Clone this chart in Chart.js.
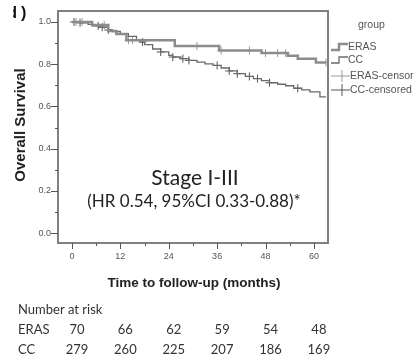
<!DOCTYPE html>
<html>
<head>
<meta charset="utf-8">
<script src="https://cdn.jsdelivr.net/npm/chart.js@4.4.0/dist/chart.umd.min.js"></script>
<style>
  html, body { margin: 0; padding: 0; background: #fff; }
  #wrap { width: 414px; height: 361px; position: relative; }
</style>
</head>
<body>
<div id="wrap"><canvas id="km" width="414" height="361"></canvas></div>
<script>
// KM step data (months, survival)
const erasTimes = [0, 5, 9, 11, 13.5, 25.5, 36.5, 47, 53.5, 56, 60.5, 63];
const erasSurv  = [1.0, 0.986, 0.957, 0.943, 0.914, 0.886, 0.865, 0.853, 0.84, 0.826, 0.808, 0.808];
const ccTimes = [0, 2, 4, 5, 7, 9, 10, 12, 14, 16, 17, 18, 20, 22, 24, 25, 27, 29, 31, 33, 35, 37, 39, 41, 43, 45, 47, 49, 51, 53, 55, 57, 59, 61.5, 63];
const ccSurv  = [1.0, 0.996, 0.989, 0.982, 0.975, 0.962, 0.955, 0.945, 0.932, 0.915, 0.905, 0.893, 0.872, 0.858, 0.842, 0.834, 0.826, 0.818, 0.810, 0.802, 0.794, 0.782, 0.768, 0.755, 0.742, 0.732, 0.722, 0.712, 0.705, 0.698, 0.686, 0.678, 0.669, 0.645, 0.645];
// censoring times
const erasCensor = [1, 2.5, 8, 14, 15, 31, 37, 44, 48, 51, 53, 63];
const ccCensor = [0.5, 2, 6.5, 7.5, 9, 17.5, 22, 25, 27.5, 29, 36, 39, 41, 44, 46, 49, 56];
// axis ticks
const xTicks = [0, 12, 24, 36, 48, 60];
const yTicks = [0.0, 0.2, 0.4, 0.6, 0.8, 1.0];
// number at risk table
const riskGroups = ['ERAS', 'CC'];
const riskEras = [70, 66, 62, 59, 54, 48];
const riskCc = [279, 260, 225, 207, 186, 169];

const toPoints = (t, s) => t.map((x, i) => ({ x: x, y: s[i] }));
// survival at time t from a step curve
const survAt = (t, times, surv) => {
  let v = surv[0];
  for (let i = 0; i < times.length; i++) { if (times[i] <= t) v = surv[i]; }
  return v;
};
const censorPoints = (c, times, surv) => c.map(t => ({ x: t, y: survAt(t, times, surv) }));

const ERAS_COL = '#8c8c8c';
const CC_COL = '#6a6a6a';

const decorPlugin = {
  id: 'decor',
  afterDraw(chart) {
    const ctx = chart.ctx;
    const a = chart.chartArea;
    const xs = chart.scales.x, ys = chart.scales.y;
    ctx.save();

    // frame
    ctx.strokeStyle = '#808080';
    ctx.lineWidth = 2;
    ctx.strokeRect(a.left, a.top, a.right - a.left, a.bottom - a.top);

    // ticks
    ctx.lineWidth = 1;
    ctx.strokeStyle = '#555';
    for (let m = 0; m <= 60; m += 6) {
      const px = Math.round(xs.getPixelForValue(m)) + 0.5;
      ctx.beginPath();
      ctx.moveTo(px, a.bottom);
      ctx.lineTo(px, a.bottom + (m % 12 === 0 ? 6 : 3));
      ctx.stroke();
    }
    for (let v = 0; v <= 10; v++) {
      const py = Math.round(ys.getPixelForValue(v / 10)) + 0.5;
      ctx.beginPath();
      ctx.moveTo(a.left, py);
      ctx.lineTo(a.left - (v % 2 === 0 ? 7 : 3), py);
      ctx.stroke();
    }

    // tick labels
    ctx.fillStyle = '#555';
    ctx.font = '9px "Liberation Sans", Arial, sans-serif';
    ctx.textAlign = 'center';
    ctx.textBaseline = 'middle';
    xTicks.forEach(t => ctx.fillText(String(t), xs.getPixelForValue(t), 257));
    ctx.textAlign = 'right';
    yTicks.forEach(t => ctx.fillText(t.toFixed(1), 51, ys.getPixelForValue(t)));

    // axis titles
    ctx.fillStyle = '#222';
    ctx.font = 'bold 13.5px "Liberation Sans", Arial, sans-serif';
    ctx.textAlign = 'center';
    ctx.fillText('Time to follow-up (months)', 194, 283);
    ctx.save();
    ctx.translate(21, 125);
    ctx.rotate(-Math.PI / 2);
    ctx.font = 'bold 15px "Liberation Sans", Arial, sans-serif';
    ctx.fillText('Overall Survival', 0, 0);
    ctx.restore();

    // panel letter, cropped at the left edge
    ctx.save();
    ctx.beginPath();
    ctx.rect(13, 0, 30, 40);
    ctx.clip();
    ctx.font = 'bold 16px "Liberation Sans", Arial, sans-serif';
    ctx.textBaseline = 'alphabetic';
    ctx.textAlign = 'right';
    ctx.fillStyle = '#111';
    ctx.fillText('d', 17, 18);
    ctx.textAlign = 'left';
    ctx.fillText(')', 21, 18);
    ctx.restore();

    // annotation
    ctx.fillStyle = '#222';
    ctx.font = '21px Lato, "Open Sans", sans-serif';
    ctx.textAlign = 'center';
    ctx.fillText('Stage I-III', 195, 178);
    ctx.font = '17px Lato, "Open Sans", sans-serif';
    ctx.fillText('(HR 0.54, 95%CI 0.33-0.88)*', 194, 202);

    // legend
    ctx.fillStyle = '#555';
    ctx.font = '10.5px "Liberation Sans", Arial, sans-serif';
    ctx.textAlign = 'left';
    ctx.fillText('group', 358, 25);
    const items = [
      { label: 'ERAS', y: 47, col: ERAS_COL, w: 2.5, step: true },
      { label: 'CC', y: 60, col: CC_COL, w: 1.3, step: true },
      { label: 'ERAS-censored', y: 76, col: '#9a9a9a', w: 1, step: false },
      { label: 'CC-censored', y: 90, col: '#555', w: 1, step: false }
    ];
    items.forEach(it => {
      ctx.strokeStyle = it.col;
      ctx.lineWidth = it.w;
      ctx.beginPath();
      if (it.step) {
        ctx.moveTo(331, it.y + 3);
        ctx.lineTo(339, it.y + 3);
        ctx.lineTo(339, it.y - 3);
        ctx.lineTo(348, it.y - 3);
      } else {
        ctx.moveTo(331, it.y);
        ctx.lineTo(350, it.y);
        ctx.moveTo(342, it.y - 6);
        ctx.lineTo(342, it.y + 6);
      }
      ctx.stroke();
      ctx.fillStyle = '#555';
      ctx.fillText(it.label, it.step ? 348 : 350, it.y);
    });

    // number at risk
    ctx.fillStyle = '#333';
    ctx.font = '13px Lato, "Open Sans", sans-serif';
    ctx.textAlign = 'left';
    ctx.fillText('Number at risk', 18, 310);
    const rows = [riskEras, riskCc];
    riskGroups.forEach((g, r) => {
      const y = 330 + r * 20;
      ctx.textAlign = 'left';
      ctx.fillText(g, 18, y);
      ctx.textAlign = 'center';
      rows[r].forEach((n, i) => ctx.fillText(String(n), xs.getPixelForValue(xTicks[i]) + 5, y));
    });

    ctx.restore();
  }
};

const ctx = document.getElementById('km');
const chart = new Chart(ctx, {
  type: 'line',
  data: {
    datasets: [
      {
        label: 'ERAS',
        data: toPoints(erasTimes, erasSurv),
        stepped: true,
        borderColor: ERAS_COL,
        borderWidth: 2.5,
        pointRadius: 0,
        fill: false
      },
      {
        label: 'CC',
        data: toPoints(ccTimes, ccSurv),
        stepped: true,
        borderColor: CC_COL,
        borderWidth: 1.3,
        pointRadius: 0,
        fill: false
      },
      {
        label: 'ERAS-censored',
        type: 'scatter',
        data: censorPoints(erasCensor, erasTimes, erasSurv),
        pointStyle: 'cross',
        pointRadius: 4,
        borderColor: '#9a9a9a',
        borderWidth: 1,
        showLine: false
      },
      {
        label: 'CC-censored',
        type: 'scatter',
        data: censorPoints(ccCensor, ccTimes, ccSurv),
        pointStyle: 'cross',
        pointRadius: 4,
        borderColor: '#555',
        borderWidth: 1,
        showLine: false
      }
    ]
  },
  options: {
    responsive: false,
    animation: false,
    layout: { padding: { top: 11, right: 86, left: 0, bottom: 0 } },
    plugins: { legend: { display: false }, tooltip: { enabled: false } },
    scales: {
      x: {
        type: 'linear',
        min: -3.47,
        max: 63.5,
        grid: { display: false },
        border: { display: false },
        ticks: { display: false },
        afterFit: s => { s.height = 118; }
      },
      y: {
        min: -0.047,
        max: 1.052,
        grid: { display: false },
        border: { display: false },
        ticks: { display: false },
        afterFit: s => { s.width = 58; }
      }
    }
  },
  plugins: [decorPlugin]
});
</script>
</body>
</html>
